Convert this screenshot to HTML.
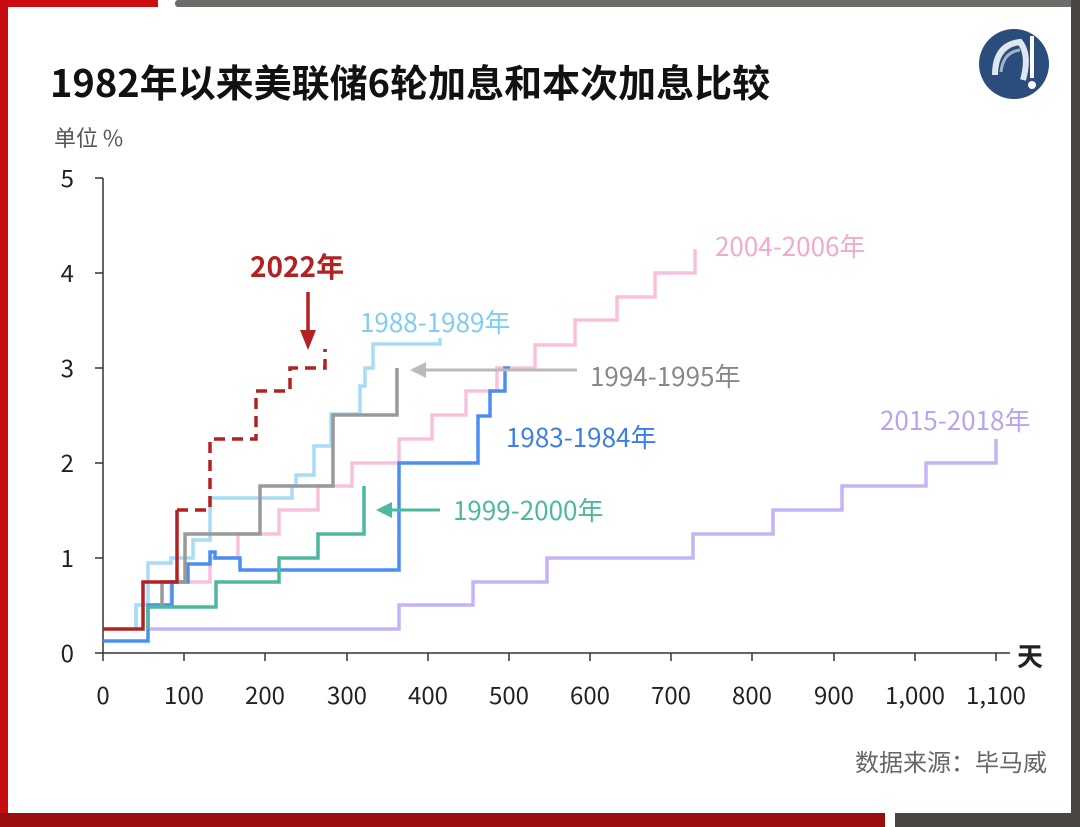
<!DOCTYPE html>
<html><head><meta charset="utf-8"><style>
html,body{margin:0;padding:0;background:#fff}
svg{display:block}
text{font-family:"Noto Sans CJK SC",sans-serif}
</style></head><body>
<svg width="1080" height="827" viewBox="0 0 1080 827" xmlns="http://www.w3.org/2000/svg">
<rect width="1080" height="827" fill="#fff"/>
<rect x="0" y="0" width="158" height="7" fill="#cc0d12"/>
<rect x="175" y="0" width="905" height="7" fill="#6f6b68" rx="3"/>
<rect x="0" y="0" width="8" height="827" fill="#c70d12"/>
<rect x="1071" y="0" width="9" height="827" fill="#4a4543"/>
<rect x="0" y="813" width="885" height="14" fill="#9a0e10"/>
<rect x="895" y="813" width="185" height="14" fill="#4a4543"/>
<circle cx="1014" cy="64" r="35" fill="#2a4d7b"/>
<path d="M995 75 Q995 45 1020 42 Q1030 55 1023 80" stroke="#dfe6ef" stroke-width="6" fill="none"/>
<path d="M1001 72 Q1003 52 1020 50" stroke="#9fb3cc" stroke-width="3" fill="none"/>
<rect x="1030" y="36" width="4" height="42" fill="#fff"/>
<circle cx="1032" cy="85" r="4" fill="#fff"/>
<text x="50" y="97" font-size="38" font-weight="bold" fill="#111">1982年以来美联储6轮加息和本次加息比较</text>
<text x="54" y="146" font-size="22" fill="#555">单位 %</text>
<g stroke="#333" stroke-width="1.5">
<line x1="103" y1="178" x2="103" y2="653"/>
<line x1="103" y1="653" x2="1010" y2="653"/>
<line x1="95" y1="178" x2="103" y2="178"/><line x1="95" y1="273" x2="103" y2="273"/>
<line x1="95" y1="368" x2="103" y2="368"/><line x1="95" y1="463" x2="103" y2="463"/>
<line x1="95" y1="558" x2="103" y2="558"/><line x1="95" y1="653" x2="103" y2="653"/>
<line x1="103" y1="653" x2="103" y2="661"/><line x1="184" y1="653" x2="184" y2="661"/>
<line x1="265" y1="653" x2="265" y2="661"/><line x1="347" y1="653" x2="347" y2="661"/>
<line x1="428" y1="653" x2="428" y2="661"/><line x1="509" y1="653" x2="509" y2="661"/>
<line x1="590" y1="653" x2="590" y2="661"/><line x1="671" y1="653" x2="671" y2="661"/>
<line x1="752" y1="653" x2="752" y2="661"/><line x1="834" y1="653" x2="834" y2="661"/>
<line x1="915" y1="653" x2="915" y2="661"/><line x1="996" y1="653" x2="996" y2="661"/>
</g>
<g font-size="24" fill="#222" text-anchor="end">
<text x="74" y="187">5</text><text x="74" y="282">4</text><text x="74" y="377">3</text>
<text x="74" y="472">2</text><text x="74" y="567">1</text><text x="74" y="662">0</text>
</g>
<g font-size="24" fill="#222" text-anchor="middle">
<text x="103" y="704">0</text><text x="184" y="704">100</text><text x="265" y="704">200</text>
<text x="347" y="704">300</text><text x="428" y="704">400</text><text x="509" y="704">500</text>
<text x="590" y="704">600</text><text x="671" y="704">700</text><text x="752" y="704">800</text>
<text x="834" y="704">900</text><text x="915" y="704">1,000</text><text x="996" y="704">1,100</text>
</g>
<text x="1030" y="666" font-size="26" font-weight="bold" fill="#222" text-anchor="middle">天</text>
<text x="1047" y="771" font-size="24" fill="#666" text-anchor="end">数据来源：毕马威</text>
<g fill="none" stroke-width="3.5" stroke-linejoin="miter">
<path stroke="#c6b3f5" d="M148 629 H399 V605 H473 V582 H547 V558 H693 V534 H773 V510 H842 V486 H926 V463 H996 V439"/>
<path stroke="#f7c0dc" d="M136 629 V605 H171 V582 H210 V558 H238 V534 H279 V510 H318 V486 H352 V463 H399 V439 H432 V415 H466 V391 H497 V368 H535 V345 H575 V320 H617 V297 H655 V273 H695 V249"/>
<path stroke="#a8dcf5" d="M136 629 V605 H148 V563 H171 V558 H193 V540 H210 V498 H292 V486 H296 V475 H314 V446 H331 V414 H360 V386 H365 V368 H373 V344 H440 V338"/>
<path stroke="#4a8ff0" d="M103 641 H148 V605 H172 V582 H188 V564 H210 V552 H215 V558 H240 V570 H399 V463 H478 V416 H490 V391 H505 V368 H510"/>
<path stroke="#999" d="M162 605 V582 H185 V534 H260 V486 H333 V415 H397 V368"/>
<path stroke="#4db8a0" d="M148 629 V607 H216 V582 H279 V558 H318 V534 H364 V486"/>
<path stroke="#b22222" d="M103 629 H143 V582 H177 V510"/>
<path stroke="#b22222" stroke-dasharray="11,7" d="M177 510 H210 V439 H256 V391 H290 V368 H325 V349"/>
</g>
<line x1="308" y1="292" x2="308" y2="332" stroke="#b22222" stroke-width="3.5"/>
<polygon points="300,330 316,330 308,350" fill="#b22222"/>
<line x1="577" y1="370" x2="425" y2="370" stroke="#bbb" stroke-width="3"/>
<polygon points="410,370 426,362 426,378" fill="#bbb"/>
<line x1="440" y1="510" x2="390" y2="510" stroke="#4db8a0" stroke-width="3"/>
<polygon points="376,510 392,502 392,518" fill="#4db8a0"/>
<text x="250" y="277" font-size="28" font-weight="bold" fill="#b22222">2022年</text>
<text x="360" y="332" font-size="26" fill="#7fcdf0">1988-1989年</text>
<text x="590" y="386" font-size="26" fill="#888">1994-1995年</text>
<text x="506" y="447" font-size="26" fill="#3a7fe8">1983-1984年</text>
<text x="453" y="520" font-size="26" fill="#4db8a0">1999-2000年</text>
<text x="715" y="256" font-size="26" fill="#f2a8cf">2004-2006年</text>
<text x="880" y="430" font-size="26" fill="#b9a3f0">2015-2018年</text>
</svg>
</body></html>
